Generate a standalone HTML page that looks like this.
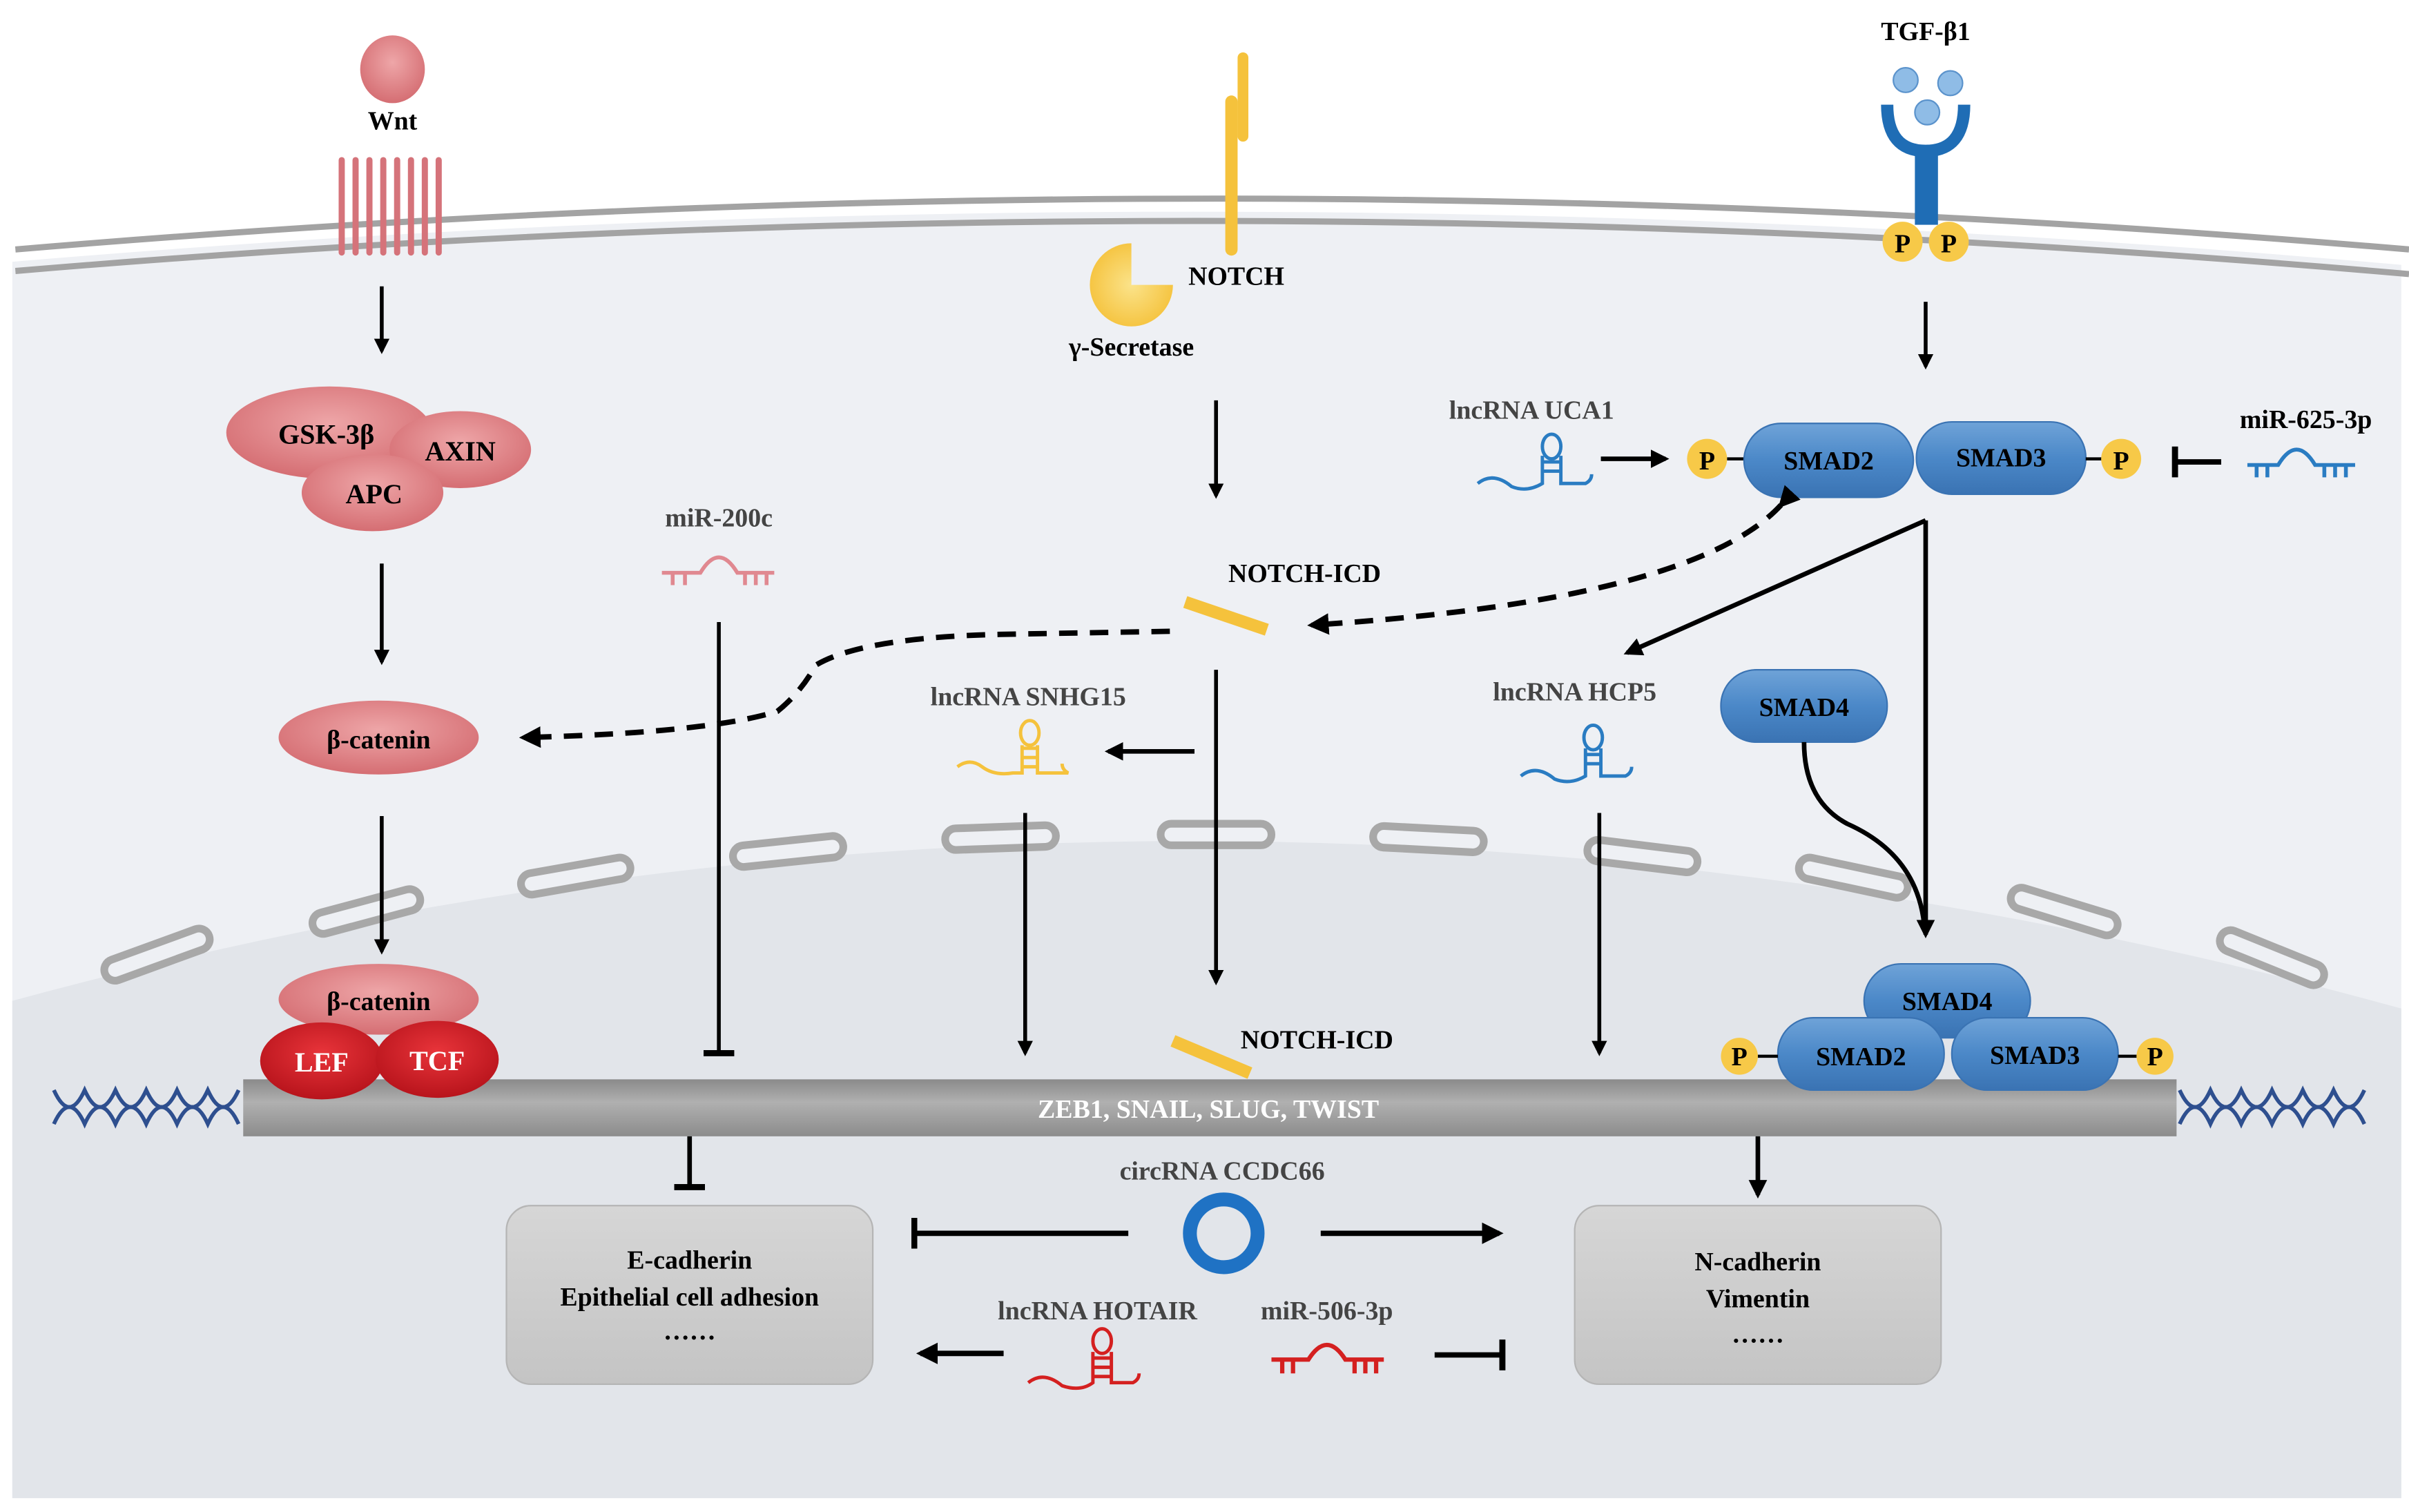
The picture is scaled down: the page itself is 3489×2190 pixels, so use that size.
<!DOCTYPE html>
<html><head><meta charset="utf-8"><style>
html,body{margin:0;padding:0;background:#fff;}
svg{display:block;}
svg text{font-family:"Liberation Serif","Times New Roman",Times,serif;font-weight:bold;}
</style></head><body>
<svg width="3489" height="2190" viewBox="0 0 1565 982" preserveAspectRatio="none" xmlns="http://www.w3.org/2000/svg" font-family="Liberation Serif, Times New Roman, serif" font-weight="bold">
<defs>
<marker id="ah" viewBox="0 0 10 10" refX="8" refY="5" markerWidth="4" markerHeight="4" orient="auto"><path d="M0,0 L10,5 L0,10 z" fill="#000"/></marker>
<marker id="tb" viewBox="0 0 4 20" refX="2" refY="10" markerUnits="userSpaceOnUse" markerWidth="4" markerHeight="20" orient="auto"><rect x="0" y="0" width="4" height="20" fill="#000"/></marker>
<radialGradient id="pink" cx="50%" cy="40%" r="60%"><stop offset="0" stop-color="#eea6a8"/><stop offset="1" stop-color="#d56e73"/></radialGradient>
<radialGradient id="red" cx="50%" cy="40%" r="60%"><stop offset="0" stop-color="#e8343a"/><stop offset="1" stop-color="#b8141c"/></radialGradient>
<linearGradient id="blue" x1="0" y1="0" x2="0" y2="1"><stop offset="0" stop-color="#6fa3d8"/><stop offset="0.5" stop-color="#4b88c8"/><stop offset="1" stop-color="#3a73b3"/></linearGradient>
<linearGradient id="bar" x1="0" y1="0" x2="0" y2="1"><stop offset="0" stop-color="#8a8a8a"/><stop offset="0.4" stop-color="#b0b0b0"/><stop offset="1" stop-color="#8c8c8c"/></linearGradient>
<linearGradient id="box" x1="0" y1="0" x2="0" y2="1"><stop offset="0" stop-color="#d6d6d6"/><stop offset="1" stop-color="#c4c4c4"/></linearGradient>
<radialGradient id="yel" cx="50%" cy="50%" r="55%"><stop offset="0" stop-color="#fbe38a"/><stop offset="1" stop-color="#f5c23c"/></radialGradient>
</defs>

<path d="M8,170 Q790,104 1560,172 L1560,973 L8,973 Z" fill="#eef0f4"/>
<path d="M8,650 Q780,440 1560,655 L1560,973 L8,973 Z" fill="#e2e5ea"/>
<path d="M10,162 Q790,96 1565,162" fill="none" stroke="#a3a3a3" stroke-width="4"/>
<path d="M10,176 Q790,110 1565,178" fill="none" stroke="#a3a3a3" stroke-width="4"/>

<g fill="#eef0f4" stroke="#a8a8a8" stroke-width="5">
<rect x="-36" y="-7" width="72" height="14" rx="7" transform="translate(102,620) rotate(-20)"/>
<rect x="-36" y="-7" width="72" height="14" rx="7" transform="translate(238,592) rotate(-15)"/>
<rect x="-36" y="-7" width="72" height="14" rx="7" transform="translate(374,569) rotate(-10)"/>
<rect x="-36" y="-7" width="72" height="14" rx="7" transform="translate(512,553) rotate(-6)"/>
<rect x="-36" y="-7" width="72" height="14" rx="7" transform="translate(650,544) rotate(-2)"/>
<rect x="-36" y="-7" width="72" height="14" rx="7" transform="translate(790,542) rotate(0)"/>
<rect x="-36" y="-7" width="72" height="14" rx="7" transform="translate(928,545) rotate(3)"/>
<rect x="-36" y="-7" width="72" height="14" rx="7" transform="translate(1067,556) rotate(7)"/>
<rect x="-36" y="-7" width="72" height="14" rx="7" transform="translate(1204,570) rotate(12)"/>
<rect x="-36" y="-7" width="72" height="14" rx="7" transform="translate(1341,592) rotate(17)"/>
<rect x="-36" y="-7" width="72" height="14" rx="7" transform="translate(1476,622) rotate(22)"/>
</g>

<ellipse cx="255" cy="45" rx="21" ry="22" fill="url(#pink)"/>
<text x="255" y="84" font-size="17" text-anchor="middle">Wnt</text>
<g stroke="#d5737a" stroke-width="4" stroke-linecap="round">
<line x1="222" y1="104" x2="222" y2="164"/><line x1="231" y1="104" x2="231" y2="164"/><line x1="240" y1="104" x2="240" y2="164"/><line x1="249" y1="104" x2="249" y2="164"/><line x1="258" y1="104" x2="258" y2="164"/><line x1="267" y1="104" x2="267" y2="164"/><line x1="276" y1="104" x2="276" y2="164"/><line x1="285" y1="104" x2="285" y2="164"/>
</g>
<g stroke="#000" stroke-width="2.5" fill="none" marker-end="url(#ah)">
<line x1="248" y1="186" x2="248" y2="228"/>
<line x1="248" y1="366" x2="248" y2="430"/>
<line x1="248" y1="530" x2="248" y2="618"/>
</g>
<ellipse cx="214" cy="281" rx="67" ry="30" fill="url(#pink)"/>
<ellipse cx="299" cy="292" rx="46" ry="25" fill="url(#pink)"/>
<ellipse cx="242" cy="320" rx="46" ry="25" fill="url(#pink)"/>
<text x="212" y="288" font-size="18" text-anchor="middle">GSK-3β</text>
<text x="299" y="299" font-size="18" text-anchor="middle">AXIN</text>
<text x="243" y="327" font-size="18" text-anchor="middle">APC</text>
<ellipse cx="246" cy="479" rx="65" ry="24" fill="url(#pink)"/>
<text x="246" y="486" font-size="17" text-anchor="middle">β-catenin</text>

<g stroke="#2e4f8f" stroke-width="2.5" fill="none">
<path d="M35,708 q10,22 20,0 q10,22 20,0 q10,22 20,0 q10,22 20,0 q10,22 20,0 q10,22 20,0"/>
<path d="M35,730 q10,-22 20,0 q10,-22 20,0 q10,-22 20,0 q10,-22 20,0 q10,-22 20,0 q10,-22 20,0"/>
<path d="M1416,708 q10,22 20,0 q10,22 20,0 q10,22 20,0 q10,22 20,0 q10,22 20,0 q10,22 20,0"/>
<path d="M1416,730 q10,-22 20,0 q10,-22 20,0 q10,-22 20,0 q10,-22 20,0 q10,-22 20,0 q10,-22 20,0"/>
</g>
<rect x="158" y="701" width="1256" height="37" fill="url(#bar)"/>
<text x="785" y="726" font-size="17" text-anchor="middle" fill="#fff">ZEB1, SNAIL, SLUG, TWIST</text>

<ellipse cx="246" cy="649" rx="65" ry="23" fill="url(#pink)"/>
<text x="246" y="656" font-size="17" text-anchor="middle">β-catenin</text>
<ellipse cx="209" cy="689" rx="40" ry="25" fill="url(#red)"/>
<ellipse cx="284" cy="688" rx="40" ry="25" fill="url(#red)"/>
<text x="209" y="696" font-size="18" text-anchor="middle" fill="#fff">LEF</text>
<text x="284" y="695" font-size="18" text-anchor="middle" fill="#fff">TCF</text>

<text x="467" y="342" font-size="17" text-anchor="middle" fill="#444">miR-200c</text>
<g stroke="#e08890" stroke-width="2.5" fill="none"><path d="M430,372 L455,372 Q467,352 479,372 L503,372 M437,372 v8 M445,372 v8 M484,372 v8 M491,372 v8 M498,372 v8"/></g>
<line x1="467" y1="404" x2="467" y2="684" stroke="#000" stroke-width="2.5" marker-end="url(#tb)"/>

<rect x="796" y="62" width="8" height="104" rx="4" fill="#f5c23c"/>
<rect x="804" y="34" width="7" height="58" rx="3.5" fill="#f5c23c"/>
<path d="M735,158 A27,27 0 1,0 762,185 L735,185 Z" fill="url(#yel)"/>
<text x="772" y="185" font-size="17">NOTCH</text>
<text x="735" y="231" font-size="17" text-anchor="middle">γ-Secretase</text>
<line x1="790" y1="260" x2="790" y2="322" stroke="#000" stroke-width="2.5" marker-end="url(#ah)"/>
<text x="798" y="378" font-size="17">NOTCH-ICD</text>
<line x1="770" y1="391" x2="823" y2="409" stroke="#f5c23c" stroke-width="8"/>
<line x1="790" y1="435" x2="790" y2="638" stroke="#000" stroke-width="2.5" marker-end="url(#ah)"/>
<line x1="762" y1="676" x2="812" y2="697" stroke="#f5c23c" stroke-width="8"/>
<text x="806" y="681" font-size="17">NOTCH-ICD</text>
<path d="M760,410 L650,412 Q560,414 530,432 Q520,450 505,462 Q460,476 340,479" fill="none" stroke="#000" stroke-width="3.5" stroke-dasharray="12,8" marker-end="url(#ah)"/>
<text x="668" y="458" font-size="17" text-anchor="middle" fill="#444">lncRNA SNHG15</text>
<line x1="776" y1="488" x2="720" y2="488" stroke="#000" stroke-width="3" marker-end="url(#ah)"/>
<g stroke="#f5c23c" stroke-width="2.2" fill="none">
<path d="M622,498 q8,-6 16,0 q8,6 20,4 L664,502 L664,484 M674,484 L674,502 L694,502 q-4,-2 -4,-6"/>
<ellipse cx="669" cy="476" rx="6" ry="8"/><path d="M664,486 h10 M664,492 h10 M664,498 h10"/>
</g>
<line x1="666" y1="528" x2="666" y2="684" stroke="#000" stroke-width="2.5" marker-end="url(#ah)"/>

<text x="1251" y="26" font-size="17" text-anchor="middle">TGF-β1</text>
<circle cx="1238" cy="52" r="8" fill="#8fbce6" stroke="#5b93cc"/>
<circle cx="1267" cy="54" r="8" fill="#8fbce6" stroke="#5b93cc"/>
<circle cx="1252" cy="73" r="8" fill="#8fbce6" stroke="#5b93cc"/>
<path d="M1226,68 Q1226,98 1251,98 Q1276,98 1276,68" fill="none" stroke="#1f6db5" stroke-width="8"/>
<rect x="1244" y="96" width="15" height="50" fill="#1f6db5"/>
<circle cx="1236" cy="157" r="13" fill="#f7c948"/><circle cx="1266" cy="157" r="13" fill="#f7c948"/>
<text x="1236" y="164" font-size="17" text-anchor="middle">P</text><text x="1266" y="164" font-size="17" text-anchor="middle">P</text>
<line x1="1251" y1="196" x2="1251" y2="238" stroke="#000" stroke-width="2.5" marker-end="url(#ah)"/>

<text x="995" y="272" font-size="17" text-anchor="middle" fill="#444">lncRNA UCA1</text>
<g stroke="#2a7cc2" stroke-width="2.2" fill="none">
<path d="M960,314 q10,-8 22,2 q10,4 20,-2 L1002,296 M1014,296 L1014,314 L1030,314 q4,-2 4,-6"/>
<ellipse cx="1008" cy="290" rx="6" ry="8"/><path d="M1002,300 h12 M1002,306 h12"/>
</g>
<line x1="1040" y1="298" x2="1082" y2="298" stroke="#000" stroke-width="3" marker-end="url(#ah)"/>
<circle cx="1109" cy="298" r="13" fill="#f7c948"/><text x="1109" y="305" font-size="17" text-anchor="middle">P</text>
<line x1="1122" y1="298" x2="1134" y2="298" stroke="#000" stroke-width="2"/>
<rect x="1133" y="275" width="110" height="48" rx="24" fill="url(#blue)" stroke="#3a73b3"/>
<rect x="1245" y="274" width="110" height="47" rx="23" fill="url(#blue)" stroke="#3a73b3"/>
<text x="1188" y="305" font-size="17" text-anchor="middle">SMAD2</text>
<text x="1300" y="303" font-size="17" text-anchor="middle">SMAD3</text>
<line x1="1355" y1="298" x2="1366" y2="298" stroke="#000" stroke-width="2"/>
<circle cx="1378" cy="298" r="13" fill="#f7c948"/><text x="1378" y="305" font-size="17" text-anchor="middle">P</text>
<line x1="1443" y1="300" x2="1413" y2="300" stroke="#000" stroke-width="3.5" marker-end="url(#tb)"/>
<text x="1498" y="278" font-size="17" text-anchor="middle">miR-625-3p</text>
<g stroke="#2a7cc2" stroke-width="2.5" fill="none"><path d="M1460,302 L1480,302 Q1492,282 1504,302 L1530,302 M1466,302 v8 M1473,302 v8 M1510,302 v8 M1517,302 v8 M1524,302 v8"/></g>

<path d="M1157,328 Q1100,390 852,406" fill="none" stroke="#000" stroke-width="3.5" stroke-dasharray="12,8" marker-start="url(#ah)" marker-end="url(#ah)"/>
<path d="M1251,338 L1057,424" stroke="#000" stroke-width="3" fill="none" marker-end="url(#ah)"/>
<line x1="1251" y1="338" x2="1251" y2="607" stroke="#000" stroke-width="3" marker-end="url(#ah)"/>

<text x="1023" y="455" font-size="17" text-anchor="middle" fill="#444">lncRNA HCP5</text>
<g stroke="#2a7cc2" stroke-width="2.2" fill="none">
<path d="M988,504 q10,-8 22,2 q10,4 20,-2 L1030,486 M1040,486 L1040,504 L1056,504 q4,-2 4,-6"/>
<ellipse cx="1035" cy="479" rx="6" ry="8"/><path d="M1030,490 h10 M1030,496 h10"/>
</g>
<line x1="1039" y1="528" x2="1039" y2="684" stroke="#000" stroke-width="2.5" marker-end="url(#ah)"/>

<rect x="1118" y="435" width="108" height="47" rx="23" fill="url(#blue)" stroke="#3a73b3"/>
<text x="1172" y="465" font-size="17" text-anchor="middle">SMAD4</text>
<path d="M1172,482 Q1172,520 1200,535 Q1245,555 1250,600" fill="none" stroke="#000" stroke-width="3"/>

<rect x="1211" y="626" width="108" height="48" rx="24" fill="url(#blue)" stroke="#3a73b3"/>
<text x="1265" y="656" font-size="17" text-anchor="middle">SMAD4</text>
<rect x="1155" y="661" width="108" height="47" rx="23" fill="url(#blue)" stroke="#3a73b3"/>
<rect x="1268" y="661" width="108" height="47" rx="23" fill="url(#blue)" stroke="#3a73b3"/>
<text x="1209" y="692" font-size="17" text-anchor="middle">SMAD2</text>
<text x="1322" y="691" font-size="17" text-anchor="middle">SMAD3</text>
<circle cx="1130" cy="686" r="12" fill="#f7c948"/><text x="1130" y="692" font-size="17" text-anchor="middle">P</text>
<line x1="1142" y1="686" x2="1155" y2="686" stroke="#000" stroke-width="2"/>
<line x1="1376" y1="686" x2="1388" y2="686" stroke="#000" stroke-width="2"/>
<circle cx="1400" cy="686" r="12" fill="#f7c948"/><text x="1400" y="692" font-size="17" text-anchor="middle">P</text>

<line x1="448" y1="738" x2="448" y2="771" stroke="#000" stroke-width="3" marker-end="url(#tb)"/>
<line x1="1142" y1="738" x2="1142" y2="776" stroke="#000" stroke-width="3" marker-end="url(#ah)"/>
<rect x="329" y="783" width="238" height="116" rx="16" fill="url(#box)" stroke="#b5b5b5"/>
<text x="448" y="824" font-size="17" text-anchor="middle">E-cadherin</text>
<text x="448" y="848" font-size="17" text-anchor="middle">Epithelial cell adhesion</text>
<text x="448" y="870" font-size="17" text-anchor="middle">……</text>
<rect x="1023" y="783" width="238" height="116" rx="16" fill="url(#box)" stroke="#b5b5b5"/>
<text x="1142" y="825" font-size="17" text-anchor="middle">N-cadherin</text>
<text x="1142" y="849" font-size="17" text-anchor="middle">Vimentin</text>
<text x="1142" y="872" font-size="17" text-anchor="middle">……</text>

<text x="794" y="766" font-size="17" text-anchor="middle" fill="#444">circRNA CCDC66</text>
<circle cx="795" cy="801" r="22" fill="none" stroke="#1f72c4" stroke-width="9"/>
<line x1="733" y1="801" x2="594" y2="801" stroke="#000" stroke-width="3.5" marker-end="url(#tb)"/>
<line x1="858" y1="801" x2="974" y2="801" stroke="#000" stroke-width="3.5" marker-end="url(#ah)"/>
<text x="713" y="857" font-size="17" text-anchor="middle" fill="#444">lncRNA HOTAIR</text>
<g stroke="#d42020" stroke-width="2.2" fill="none">
<path d="M668,898 q10,-8 22,2 q12,4 20,-2 L710,878 M722,878 L722,898 L736,898 q4,-2 4,-6"/>
<ellipse cx="716" cy="871" rx="6" ry="8"/><path d="M710,882 h12 M710,888 h12 M710,894 h12"/>
</g>
<line x1="652" y1="879" x2="598" y2="879" stroke="#000" stroke-width="3.5" marker-end="url(#ah)"/>
<text x="862" y="857" font-size="17" text-anchor="middle" fill="#444">miR-506-3p</text>
<g stroke="#d42020" stroke-width="2.8" fill="none"><path d="M826,883 L850,883 Q862,864 874,883 L899,883 M833,883 v9 M840,883 v9 M880,883 v9 M887,883 v9 M894,883 v9"/></g>
<line x1="932" y1="880" x2="976" y2="880" stroke="#000" stroke-width="3.5" marker-end="url(#tb)"/>
</svg>
</body></html>
